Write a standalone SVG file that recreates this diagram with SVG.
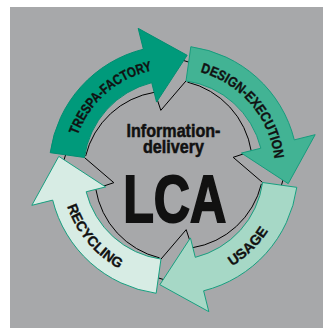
<svg xmlns="http://www.w3.org/2000/svg" xmlns:xlink="http://www.w3.org/1999/xlink" width="323" height="328" viewBox="0 0 323 328">
<style>
.bg{fill:#a7a8aa}
.sh{fill:none;stroke:#000;stroke-width:1}
.lbl{font-family:"Liberation Sans Narrow","Liberation Sans",Arial,sans-serif;font-weight:bold;font-size:14px;fill:#111;stroke:#111;stroke-width:0.35}
.ctr{font-family:"Liberation Sans Narrow","Liberation Sans",Arial,sans-serif;font-weight:bold;fill:#111;stroke:#111;text-anchor:middle}
.a1{fill:#009a7b;stroke:#008f72;stroke-width:1}
.a2{fill:#42b394;stroke:#169c7d;stroke-width:1}
.a3{fill:#a6d8c6;stroke:#17a080;stroke-width:1}
.a4{fill:#d7ece4;stroke:#17a080;stroke-width:1}
</style>
<defs>
<path id="arr" d="M 50.21 152.67 A 124.5 124.5 0 0 1 143.38 49.20 L 138.18 28.34 L 187.15 55.29 L 156.57 102.08 L 151.73 82.67 A 90 90 0 0 0 84.38 157.47 Z"/>
<path id="shd" d="M 85.60 156.08 A 85 85 0 0 1 154.82 92.21 L 160.82 110.33 L 186.03 80.88 M 182 60 L 190 62.5"/>
<path id="p1" d="M 71.5 170 A 101.5 101.5 0 0 1 191.13 70.05"/>
<path id="p2" d="M 173.5 68.5 A 101.5 101.5 0 0 1 273.46 187.63"/>
<path id="p3" d="M 173.5 282.5 A 112.5 112.5 0 0 0 284.29 150.46"/>
<path id="p4" d="M 61 170 A 112.5 112.5 0 0 0 193.04 280.79"/>
</defs>
<rect class="bg" x="10" y="7" width="313" height="321"/>
<g id="connectors">
<use href="#shd" class="sh"/>
<use href="#shd" class="sh" transform="rotate(90 173.5 170)"/>
<use href="#shd" class="sh" transform="rotate(180 173.5 170)"/>
<use href="#shd" class="sh" transform="rotate(270 173.5 170)"/>
</g>
<g id="trespa-factory">
<use href="#arr" class="a1"/>
<text class="lbl"><textPath href="#p1" startOffset="49%" text-anchor="middle" textLength="103" lengthAdjust="spacingAndGlyphs">TRESPA-FACTORY</textPath></text>
</g>
<g id="design-execution">
<use href="#arr" class="a2" transform="rotate(90 173.5 170)"/>
<text class="lbl"><textPath href="#p2" startOffset="49.5%" text-anchor="middle" textLength="121" lengthAdjust="spacingAndGlyphs">DESIGN-EXECUTION</textPath></text>
</g>
<g id="usage">
<use href="#arr" class="a3" transform="rotate(180 173.5 170)"/>
<text class="lbl"><textPath href="#p3" startOffset="44.3%" text-anchor="middle" textLength="51" lengthAdjust="spacingAndGlyphs">USAGE</textPath></text>
</g>
<g id="recycling">
<use href="#arr" class="a4" transform="rotate(270 173.5 170)"/>
<text class="lbl"><textPath href="#p4" startOffset="40%" text-anchor="middle" textLength="83" lengthAdjust="spacingAndGlyphs">RECYCLING</textPath></text>
</g>
<g id="center">
<text class="ctr" x="173.5" y="136.5" font-size="18" stroke-width="0.5" textLength="94" lengthAdjust="spacingAndGlyphs">Information-</text>
<text class="ctr" x="173.5" y="152.5" font-size="18" stroke-width="0.5" textLength="61" lengthAdjust="spacingAndGlyphs">delivery</text>
<text class="ctr" x="174.7" y="222" font-size="67" stroke-width="2" textLength="103" lengthAdjust="spacingAndGlyphs">LCA</text>
</g>
</svg>
